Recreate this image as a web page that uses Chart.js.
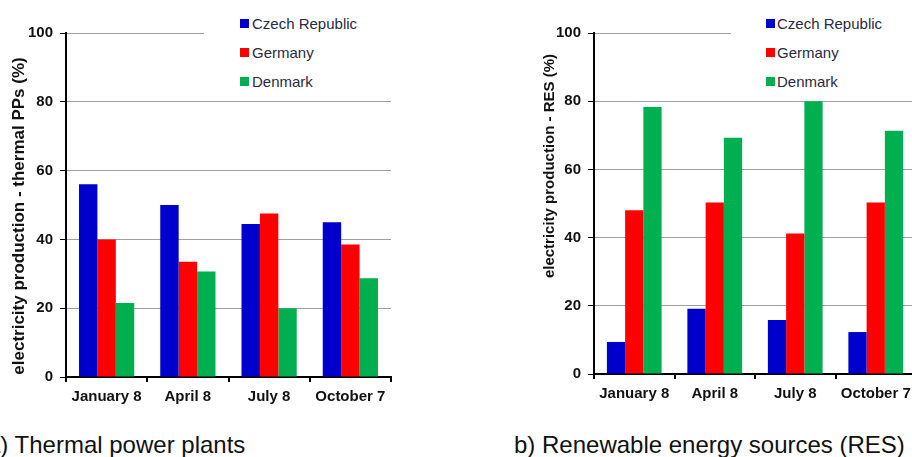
<!DOCTYPE html>
<html lang="en">
<head>
<meta charset="UTF-8">
<script src="https://cdn.jsdelivr.net/npm/chart.js@4"></script>
<title>Electricity production</title>
<style>
  body { margin: 0; background: #fff; }
  #page { position: relative; width: 912px; height: 457px; overflow: hidden; font-family: 'Liberation Sans', Arial, sans-serif; }
  canvas { position: absolute; top: 0; }
  .legend { position: absolute; top: 6px; height: 90px; background: #fff; }
  .legend .row { position: absolute; height: 17px; font-size: 15px; line-height: 17px; color: #2a2a40; white-space: nowrap; }
  .legend .sq { position: absolute; top: 4px; width: 9px; height: 9px; }
  .caption { position: absolute; top: 433px; font-size: 24px; line-height: 24px; color: #111; white-space: nowrap; }
</style>
</head>
<body>
<div id="page">
  <canvas id="thermal" width="400" height="420" style="left:0"></canvas>
  <canvas id="res" width="400" height="420" style="left:520px"></canvas>
  <div class="legend" id="legendA" style="left:204px;width:200px"></div>
  <div class="legend" id="legendB" style="left:731px;width:181px"></div>
  <div class="caption" style="left:-13px">a) Thermal power plants</div>
  <div class="caption" style="left:514px">b) Renewable energy sources (RES)</div>
</div>
<script>
  const categories = ['January 8', 'April 8', 'July 8', 'October 7'];
  const countries = ['Czech Republic', 'Germany', 'Denmark'];
  const colors = ['#0000CC', '#FF0000', '#00B050'];
  const yTicks = [0, 20, 40, 60, 80, 100];

  // a) thermal power plants, % of electricity production
  const thermalCzech = [56, 50, 44.5, 45];
  const thermalGermany = [40, 33.5, 47.5, 38.5];
  const thermalDenmark = [21.5, 30.7, 20, 28.7];

  // b) renewable energy sources, %
  const resCzech = [9.4, 19.1, 15.8, 12.3];
  const resGermany = [48, 50.3, 41.2, 50.3];
  const resDenmark = [78.3, 69.3, 80, 71.3];

  Chart.defaults.font.family = "'Liberation Sans', Arial, sans-serif";

  // rotated y axis title, placed where the original had it
  const yTitlePlugin = {
    id: 'yTitle',
    afterDraw(chart, args, opts) {
      const ctx = chart.ctx;
      ctx.save();
      ctx.translate(opts.x, opts.y);
      ctx.rotate(-Math.PI / 2);
      ctx.font = 'bold ' + opts.size + "px 'Liberation Sans', Arial, sans-serif";
      ctx.fillStyle = '#111';
      ctx.textAlign = 'center';
      ctx.textBaseline = 'middle';
      ctx.fillText(opts.text, 0, 0);
      ctx.restore();
    }
  };

  function drawChart(id, series, yTitle, box) {
    return new Chart(document.getElementById(id), {
      type: 'bar',
      data: {
        labels: categories,
        datasets: series.map((values, i) => ({
          label: countries[i],
          data: values,
          backgroundColor: colors[i],
          borderWidth: 0,
          categoryPercentage: 0.68,
          barPercentage: 1.0
        }))
      },
      options: {
        responsive: false,
        animation: false,
        devicePixelRatio: 1,
        layout: { padding: { top: box.top, right: box.right, left: 0, bottom: 0 } },
        plugins: {
          legend: { display: false },
          tooltip: { enabled: false },
          yTitle: yTitle
        },
        scales: {
          x: {
            grid: { offset: true, drawOnChartArea: false, tickLength: 5, tickColor: '#000', lineWidth: 2 },
            border: { color: '#000', width: 2 },
            ticks: { color: '#111', font: { size: 15, weight: 'bold' }, padding: 6, maxRotation: 0 },
            afterFit: s => { s.height = box.xHeight; }
          },
          y: {
            min: 0,
            max: 100,
            afterBuildTicks: s => { s.ticks = yTicks.map(v => ({ value: v })); },
            grid: { color: '#a0a0a0', lineWidth: 1, tickLength: 6, tickColor: '#000' },
            border: { color: '#000', width: 2 },
            ticks: { color: '#111', font: { size: 15, weight: 'bold' }, padding: 7 },
            afterFit: s => { s.width = box.yWidth; }
          }
        }
      },
      plugins: [yTitlePlugin]
    });
  }

  function buildLegend(id, sqLeft, textLeft) {
    const el = document.getElementById(id);
    const tops = [9, 38, 67];
    countries.forEach((name, i) => {
      const row = document.createElement('div');
      row.className = 'row';
      row.style.top = tops[i] + 'px';
      row.style.left = sqLeft + 'px';
      const sq = document.createElement('span');
      sq.className = 'sq';
      sq.style.left = '0px';
      sq.style.background = colors[i];
      const txt = document.createElement('span');
      txt.style.position = 'absolute';
      txt.style.left = (textLeft - sqLeft) + 'px';
      txt.textContent = name;
      row.appendChild(sq);
      row.appendChild(txt);
      el.appendChild(row);
    });
  }

  drawChart('thermal', [thermalCzech, thermalGermany, thermalDenmark],
    { text: 'electricity production - thermal PPs (%)', x: 19.5, y: 216, size: 17 },
    { top: 33, right: 9, yWidth: 66, xHeight: 43 });

  drawChart('res', [resCzech, resGermany, resDenmark],
    { text: 'electricity production - RES (%)', x: 30, y: 166, size: 15 },
    { top: 33, right: 4, yWidth: 74, xHeight: 46 });

  buildLegend('legendA', 36, 48);
  buildLegend('legendB', 35, 46);
</script>
</body>
</html>
